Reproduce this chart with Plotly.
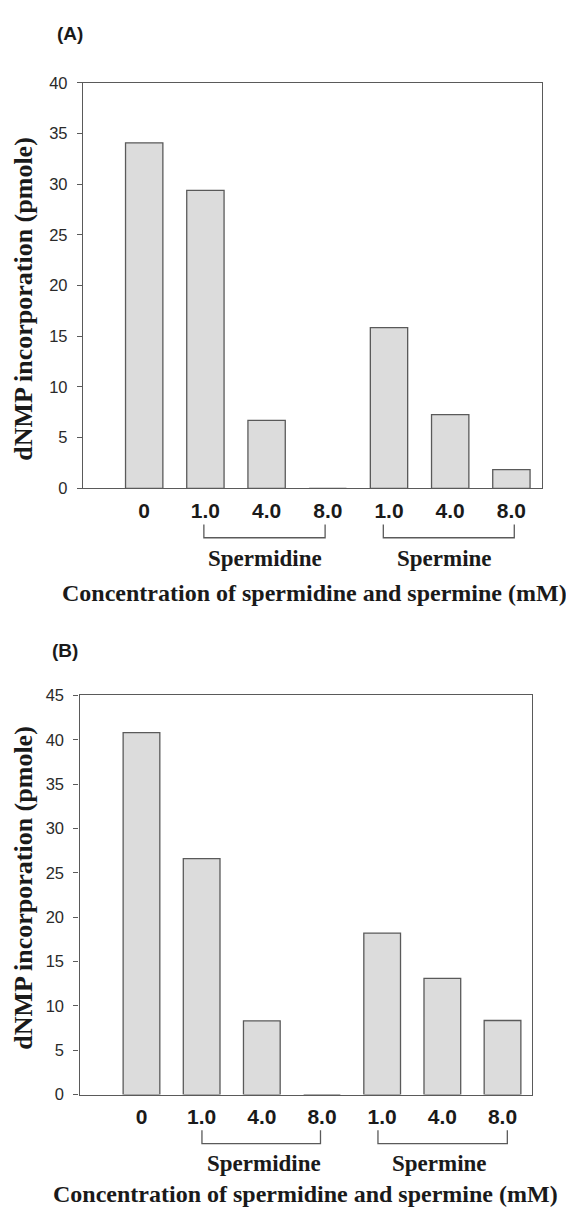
import plotly.graph_objects as go

# ---- data ----
categories = ["0", "1.0", "4.0", "8.0", "1.0", "4.0", "8.0"]
positions = [0, 1, 2, 3, 4, 5, 6]
values_a = [34.1, 29.4, 6.7, 0, 15.85, 7.27, 1.84]
values_b = [40.8, 26.6, 8.3, 0, 18.2, 13.1, 8.35]
yticks_a = [0, 5, 10, 15, 20, 25, 30, 35, 40]
yticks_b = [0, 5, 10, 15, 20, 25, 30, 35, 40, 45]
group_names = ["Spermidine", "Spermine"]
y_title = "dNMP incorporation (pmole)"
x_title = "Concentration of spermidine and spermine (mM)"
panel_labels = ["(A)", "(B)"]

# page is 574x1215; the default 8px body margin offsets the figure
PAGE_W, PAGE_H = 574, 1215
OFF = 8
W, H = PAGE_W - 2 * OFF, PAGE_H - 2 * OFF
SANS = "Liberation Sans, Arial, sans-serif"
SERIF = "Liberation Serif, Times New Roman, serif"
BAR_FILL = "#dcdcdc"
LINE_COL = "#5a5a5a"
TXT = "#1a1a1a"


def px_x(p):
    return (p - OFF) / W


def px_y(p):
    return (H - (p - OFF)) / H


fig = go.Figure()

for vals, xa, ya in [(values_a, "x", "y"), (values_b, "x2", "y2")]:
    fig.add_trace(go.Bar(
        x=positions, y=vals, xaxis=xa, yaxis=ya, width=0.61,
        marker=dict(color=BAR_FILL, line=dict(color=LINE_COL, width=1.3)),
        showlegend=False, hoverinfo="y",
    ))

common_x = dict(
    tickmode="array", tickvals=positions, ticktext=categories,
    ticks="", showline=True, linecolor=LINE_COL, linewidth=1.3, mirror=True,
    showgrid=False, zeroline=False,
    tickfont=dict(family=SANS, size=21, color=TXT, weight="bold"),
    ticklabelstandoff=3,
)
common_y = dict(
    ticks="outside", ticklen=5, tickcolor=LINE_COL, tickwidth=1.2,
    showline=True, linecolor=LINE_COL, linewidth=1.3, mirror=True,
    showgrid=False, zeroline=False,
    tickfont=dict(family=SANS, size=16.5, color="#2a2a2a"),
    ticklabelstandoff=6,
)

fig.update_layout(
    width=W, height=H, autosize=False,
    margin=dict(l=0, r=0, t=0, b=0),
    paper_bgcolor="white", plot_bgcolor="white",
    xaxis=dict(domain=[px_x(83), px_x(542)], range=[-1.0, 6.5], anchor="y", **common_x),
    yaxis=dict(domain=[px_y(486.5), px_y(75)], range=[0, 40], tickvals=yticks_a,
               anchor="x", **common_y),
    xaxis2=dict(domain=[px_x(79.5), px_x(532)], range=[-1.03, 6.49], anchor="y2", **common_x),
    yaxis2=dict(domain=[px_y(1102), px_y(696.7)], range=[0, 45], tickvals=yticks_b,
                anchor="x2", **common_y),
)

shapes = []
annotations = []

panels = [
    dict(xref="x", label_xy=(70, 25), brackets=[(0.975, 2.956), (3.907, 6.047)],
         br_top=523.3, br_bot=536.7, grp_x=[1.98, 4.91], grp_y=558,
         title_xy=(314, 593), ytitle_xy=(24, 294)),
    dict(xref="x2", label_xy=(65, 651), brackets=[(1.005, 2.975), (3.93, 6.08)],
         br_top=1138.3, br_bot=1151.7, grp_x=[2.03, 4.95], grp_y=1171.7,
         title_xy=(305, 1203), ytitle_xy=(24, 892)),
]

for i, p in enumerate(panels):
    annotations.append(dict(
        text=panel_labels[i], xref="paper", yref="paper",
        x=px_x(p["label_xy"][0]), y=px_y(p["label_xy"][1]),
        xanchor="center", yanchor="middle", showarrow=False,
        font=dict(family=SANS, size=19, color=TXT, weight="bold"),
    ))
    for (x0, x1) in p["brackets"]:
        shapes.append(dict(
            type="path", xref=p["xref"], yref="paper",
            path=f"M {x0},{px_y(p['br_top'])} L {x0},{px_y(p['br_bot'])} "
                 f"L {x1},{px_y(p['br_bot'])} L {x1},{px_y(p['br_top'])}",
            line=dict(color=LINE_COL, width=1.3),
        ))
    for gx, name in zip(p["grp_x"], group_names):
        annotations.append(dict(
            text=name, xref=p["xref"], yref="paper", x=gx, y=px_y(p["grp_y"]),
            xanchor="center", yanchor="middle", showarrow=False,
            font=dict(family=SERIF, size=23, color=TXT, weight="bold"),
        ))
    annotations.append(dict(
        text=x_title, xref="paper", yref="paper",
        x=px_x(p["title_xy"][0]), y=px_y(p["title_xy"][1]),
        xanchor="center", yanchor="middle", showarrow=False,
        font=dict(family=SERIF, size=24, color=TXT, weight="bold"),
    ))
    annotations.append(dict(
        text=y_title, xref="paper", yref="paper",
        x=px_x(p["ytitle_xy"][0]), y=px_y(p["ytitle_xy"][1]),
        xanchor="center", yanchor="middle", showarrow=False, textangle=-90,
        font=dict(family=SERIF, size=26, color=TXT, weight="bold"),
    ))

fig.update_layout(shapes=shapes, annotations=annotations)

fig.write_html("out.html")
